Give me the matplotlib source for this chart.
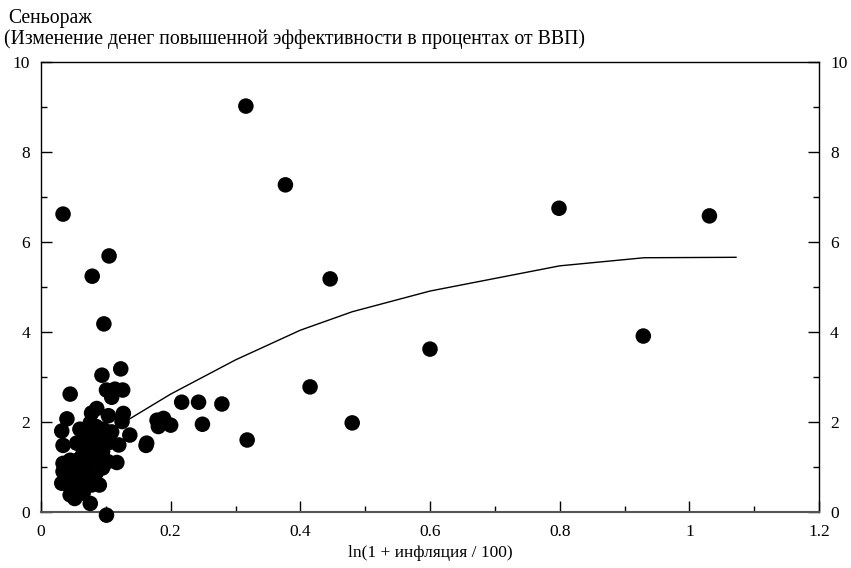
import matplotlib
matplotlib.use("Agg")
import matplotlib.pyplot as plt
from matplotlib.ticker import MultipleLocator, FuncFormatter

plt.rcParams['font.family'] = ['Liberation Serif', 'DejaVu Serif']

# Scatter data: x = ln(1 + inflation/100), y = seigniorage (% of GDP)
x_pts = [0.034, 0.079, 0.105, 0.097, 0.316, 0.377, 0.446, 0.799, 1.031, 0.929,
         0.600, 0.415, 0.480, 0.318, 0.279, 0.243, 0.217, 0.249, 0.200, 0.181,
         0.179, 0.189, 0.163, 0.162, 0.137,
         0.123, 0.094, 0.045, 0.101, 0.114, 0.126, 0.109,
         0.086, 0.078, 0.104, 0.127, 0.040, 0.076, 0.125,
         0.032, 0.060, 0.096, 0.109, 0.085, 0.070,
         0.034, 0.055, 0.070, 0.088, 0.106, 0.120, 0.080, 0.095,
         0.034, 0.045, 0.060, 0.073, 0.083, 0.093, 0.103, 0.117, 0.065, 0.085,
         0.034, 0.048, 0.060, 0.072, 0.085, 0.095, 0.055,
         0.032, 0.043, 0.055, 0.066, 0.078, 0.090, 0.075,
         0.045, 0.052, 0.065, 0.076, 0.101]
y_pts = [6.62, 5.24, 5.69, 4.18, 9.02, 7.27, 5.18, 6.75, 6.58, 3.91,
         3.62, 2.78, 1.98, 1.60, 2.40, 2.44, 2.44, 1.95, 1.93, 1.90,
         2.04, 2.08, 1.53, 1.48, 1.71,
         3.18, 3.04, 2.62, 2.71, 2.73, 2.71, 2.55,
         2.30, 2.20, 2.14, 2.19, 2.07, 1.98, 2.01,
         1.80, 1.84, 1.84, 1.78, 1.90, 1.70,
         1.48, 1.53, 1.58, 1.60, 1.55, 1.49, 1.40, 1.35,
         1.08, 1.15, 1.18, 1.15, 1.20, 1.15, 1.12, 1.10, 1.30, 1.28,
         0.90, 0.88, 0.87, 0.92, 0.87, 0.98, 1.00,
         0.64, 0.60, 0.58, 0.62, 0.60, 0.60, 0.75,
         0.38, 0.30, 0.42, 0.19, -0.07]

# Fitted curve
x_fit = [0.032, 0.10, 0.20, 0.30, 0.40, 0.48, 0.60, 0.80, 0.93, 1.072]
y_fit = [1.10, 1.75, 2.62, 3.38, 4.04, 4.45, 4.91, 5.47, 5.65, 5.66]

fig = plt.figure(figsize=(8.51, 5.68), dpi=100)
ax = fig.add_axes([41/851, 1 - 512/568, (819 - 41)/851, (512 - 62)/568])

ax.plot(x_fit, y_fit, color='black', linewidth=1.0, zorder=2)
ax.scatter(x_pts, y_pts, s=125, color='black', edgecolors='none', zorder=3, clip_on=False)

ax.set_xlim(0, 1.2)
ax.set_ylim(0, 10)
ax.xaxis.set_major_locator(MultipleLocator(0.2))
ax.xaxis.set_minor_locator(MultipleLocator(0.1))
ax.yaxis.set_major_locator(MultipleLocator(2))
ax.yaxis.set_minor_locator(MultipleLocator(1))
ax.xaxis.set_major_formatter(FuncFormatter(lambda v, p: f"{v:g}"))
ax.yaxis.set_major_formatter(FuncFormatter(lambda v, p: f"{v:g}"))

ax.tick_params(axis='both', which='both', direction='in', labelsize=12.5, color='black')
ax.tick_params(axis='y', which='both', left=True, right=True, labelleft=True, labelright=True, pad=8)
ax.tick_params(axis='x', which='both', top=False, bottom=True, pad=9)
ax.tick_params(which='major', length=8, width=1)
ax.tick_params(which='minor', length=4, width=1)

for sp in ax.spines.values():
    sp.set_linewidth(1.0)
    sp.set_color('black')
ax.spines['bottom'].set_color('#555555')
ax.spines['bottom'].set_linewidth(1.5)

ax.set_xlabel('ln(1 + инфляция / 100)', fontsize=12.5, labelpad=3)

fig.text(8/851, 1 - 23.5/568, 'Сеньораж', fontsize=14.2, ha='left', va='baseline')
fig.text(4/851, 1 - 44/568, '(Изменение денег повышенной эффективности в процентах от ВВП)',
         fontsize=14.2, ha='left', va='baseline')

fig.savefig('out.png', dpi=100)
